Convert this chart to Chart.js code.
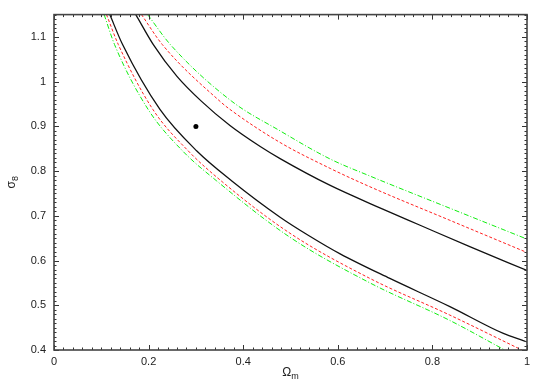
<!DOCTYPE html>
<html>
<head>
<meta charset="utf-8">
<script src="https://cdn.jsdelivr.net/npm/chart.js@4/dist/chart.umd.min.js"></script>
<style>
html,body{margin:0;padding:0;background:#fff;}
canvas{display:block;}
</style>
</head>
<body>
<canvas id="c" width="545" height="382" style="width:545px;height:382px"></canvas>
<script>
// Tick labels
const xTickValues = [0, 0.2, 0.4, 0.6, 0.8, 1];
const yTickValues = [0.4, 0.5, 0.6, 0.7, 0.8, 0.9, 1.0, 1.1];

// Best-fit point
const fidX = [0.3];
const fidY = [0.9];

// Upper band boundaries
const upperSolidX = [0.173, 0.210, 0.260, 0.312, 0.372, 0.436, 0.478, 0.584, 0.689, 0.774, 0.879, 1.0];
const upperSolidY = [1.150, 1.083, 1.012, 0.956, 0.902, 0.855, 0.828, 0.768, 0.718, 0.679, 0.631, 0.578];
const upperRedX   = [0.185, 0.229, 0.351, 0.372, 0.478, 0.584, 0.668, 0.837, 1.0];
const upperRedY   = [1.150, 1.083, 0.956, 0.938, 0.864, 0.806, 0.765, 0.690, 0.618];
const upperGreenX = [0.198, 0.246, 0.376, 0.478, 0.584, 0.668, 0.837, 1.0];
const upperGreenY = [1.150, 1.083, 0.956, 0.890, 0.827, 0.789, 0.717, 0.648];

// Lower band boundaries
const lowerSolidX = [0.118, 0.145, 0.224, 0.302, 0.376, 0.478, 0.540, 0.605, 0.710, 0.837, 0.950, 0.992, 1.0];
const lowerSolidY = [1.150, 1.083, 0.938, 0.845, 0.778, 0.697, 0.655, 0.615, 0.560, 0.497, 0.437, 0.421, 0.418];
const lowerRedX   = [0.111, 0.136, 0.209, 0.284, 0.357, 0.499, 0.668, 0.837, 0.989];
const lowerRedY   = [1.150, 1.083, 0.938, 0.845, 0.775, 0.661, 0.560, 0.478, 0.400];
const lowerGreenX = [0.106, 0.128, 0.199, 0.272, 0.344, 0.499, 0.668, 0.837, 0.953];
const lowerGreenY = [1.150, 1.083, 0.938, 0.845, 0.778, 0.652, 0.550, 0.466, 0.400];

const pts = (xs, ys) => xs.map((x, i) => ({x: x, y: ys[i]}));
const fmt = v => String(Math.round(v * 10) / 10);

function lineDS(xs, ys, color, width, dash) {
  return {
    data: pts(xs, ys), borderColor: color, borderWidth: width, borderDash: dash,
    pointRadius: 0, fill: false, showLine: true, cubicInterpolationMode: 'monotone'
  };
}

const FONT = '"Liberation Sans", Arial, Helvetica, sans-serif';

const framePlugin = {
  id: 'frame',
  afterDatasetsDraw(chart) {
    const ctx = chart.ctx, a = chart.chartArea;
    const xs = chart.scales.x, ys = chart.scales.y;
    ctx.save();
    ctx.strokeStyle = '#333';
    ctx.lineWidth = 1;
    ctx.beginPath();
    for (let i = 0; i <= 50; i++) {
      const v = i * 0.02;
      const px = Math.round(xs.getPixelForValue(v)) + 0.5;
      const len = (i % 10 === 0) ? 5 : 2.5;
      ctx.moveTo(px, a.bottom); ctx.lineTo(px, a.bottom - len);
      ctx.moveTo(px, a.top); ctx.lineTo(px, a.top + len);
    }
    for (let i = 0; i <= 75; i++) {
      const v = 0.4 + i * 0.01;
      const py = Math.round(ys.getPixelForValue(v)) + 0.5;
      const len = (i % 10 === 0) ? 5 : 2.5;
      ctx.moveTo(a.left, py); ctx.lineTo(a.left + len, py);
      ctx.moveTo(a.right, py); ctx.lineTo(a.right - len, py);
    }
    ctx.stroke();
    ctx.lineWidth = 1.6;
    ctx.strokeStyle = '#444';
    ctx.strokeRect(a.left, a.top, a.right - a.left, a.bottom - a.top);
    // axis titles with subscripts
    ctx.fillStyle = '#222';
    ctx.textBaseline = 'alphabetic';
    ctx.textAlign = 'left';
    const cx = (a.left + a.right) / 2;
    ctx.font = '12px ' + FONT;
    const wO = ctx.measureText('\u03A9').width;
    ctx.font = '9px ' + FONT;
    const wm = ctx.measureText('m').width;
    let x0 = cx - (wO + wm) / 2;
    ctx.font = '12px ' + FONT;
    ctx.fillText('\u03A9', x0, 376);
    ctx.font = '9px ' + FONT;
    ctx.fillText('m', x0 + wO, 379);
    ctx.translate(15, (a.top + a.bottom) / 2);
    ctx.rotate(-Math.PI / 2);
    ctx.font = '12px ' + FONT;
    const ws = ctx.measureText('\u03C3').width;
    ctx.font = '9px ' + FONT;
    const w8 = ctx.measureText('8').width;
    x0 = -(ws + w8) / 2;
    ctx.font = '12px ' + FONT;
    ctx.fillText('\u03C3', x0, 0);
    ctx.font = '9px ' + FONT;
    ctx.fillText('8', x0 + ws, 3);
    ctx.restore();
  }
};

new Chart(document.getElementById('c'), {
  type: 'line',
  data: {
    datasets: [
      lineDS(upperGreenX, upperGreenY, '#11ee11', 1, [5, 2, 1, 2]),
      lineDS(lowerGreenX, lowerGreenY, '#11ee11', 1, [5, 2, 1, 2]),
      lineDS(upperRedX, upperRedY, '#ff2020', 1, [3, 2]),
      lineDS(lowerRedX, lowerRedY, '#ff2020', 1, [3, 2]),
      lineDS(upperSolidX, upperSolidY, '#111', 1.3, []),
      lineDS(lowerSolidX, lowerSolidY, '#111', 1.3, []),
      {
        data: pts(fidX, fidY), showLine: false, pointRadius: 2.5,
        pointBackgroundColor: '#000', pointBorderColor: '#000', pointBorderWidth: 0
      }
    ]
  },
  options: {
    responsive: false,
    devicePixelRatio: 1,
    animation: false,
    layout: {padding: {top: 13, right: 18, left: 0, bottom: 0}},
    plugins: {legend: {display: false}, tooltip: {enabled: false}},
    scales: {
      x: {
        type: 'linear', min: 0, max: 1,
        afterFit(s) { s.height = 32; },
        afterBuildTicks(s) { s.ticks = xTickValues.map(v => ({value: v})); },
        ticks: {callback: v => fmt(v), font: {family: FONT, size: 11}, color: '#222',
                padding: 5, maxRotation: 0, autoSkip: false},
        grid: {display: false, drawTicks: false, tickLength: 0},
        border: {display: false}
      },
      y: {
        type: 'linear', min: 0.4, max: 1.15,
        afterFit(s) { s.width = 54; },
        afterBuildTicks(s) { s.ticks = yTickValues.map(v => ({value: v})); },
        ticks: {callback: v => fmt(v), font: {family: FONT, size: 11}, color: '#222',
                padding: 8, autoSkip: false},
        grid: {display: false, drawTicks: false, tickLength: 0},
        border: {display: false}
      }
    }
  },
  plugins: [framePlugin]
});
</script>
</body>
</html>
